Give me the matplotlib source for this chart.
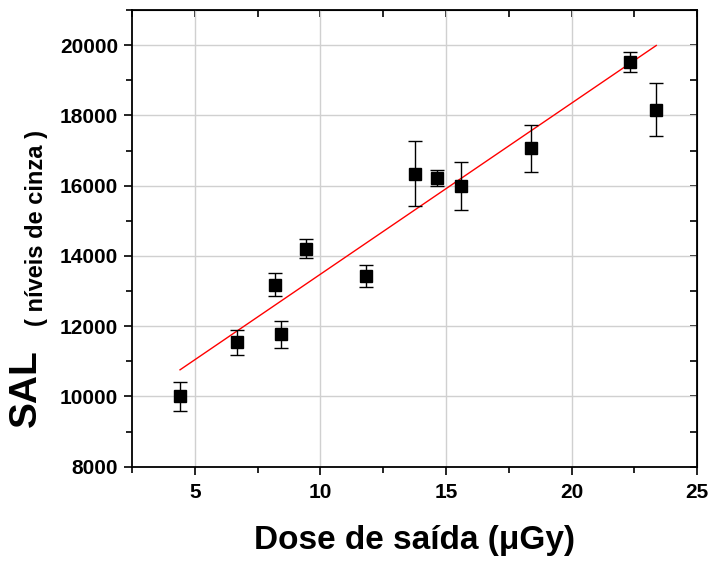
import matplotlib
matplotlib.use("Agg")
import matplotlib.pyplot as plt
import numpy as np
from matplotlib.ticker import MultipleLocator

# data
dose = [4.41, 6.69, 8.18, 8.43, 9.42, 11.81, 13.76, 14.63, 15.60, 18.37, 22.34, 23.37]
sal = [10000, 11544, 13179, 11772, 14209, 13430, 16342, 16228, 16000, 17068, 19525, 18162]
sal_err = [400, 350, 325, 380, 275, 325, 920, 230, 680, 665, 280, 755]

# linear fit as drawn in the reference
fit_intercept = 8612
fit_slope = 487

plt.rcParams['font.family'] = ['Liberation Sans', 'DejaVu Sans']
plt.rcParams['font.weight'] = 'bold'

fig = plt.figure(figsize=(7.10, 5.61), dpi=100)
ax = fig.add_axes([0.186, 0.168, 0.796, 0.814])

ax.grid(True, which='major', color='#d0d0d0', linewidth=1.0, zorder=0)
ax.set_axisbelow(True)

fit_x = np.array([min(dose), max(dose)])
ax.plot(fit_x, fit_intercept + fit_slope * fit_x, color='red', linewidth=1.0, zorder=2)

ax.errorbar(dose, sal, yerr=sal_err, fmt='s', color='black', markersize=8.5,
            ecolor='black', elinewidth=1.0, capsize=5, capthick=1.0, zorder=3)

ax.set_xlim(2.5, 25)
ax.set_ylim(8000, 21000)
ax.xaxis.set_major_locator(MultipleLocator(5))
ax.xaxis.set_minor_locator(MultipleLocator(2.5))
ax.yaxis.set_major_locator(MultipleLocator(2000))
ax.yaxis.set_minor_locator(MultipleLocator(1000))

ax.tick_params(which='both', direction='out', width=1.2, labelsize=15)
ax.tick_params(which='major', length=6)
ax.tick_params(which='minor', length=4)
ax.tick_params(axis='x', which='major', pad=6)
ax.tick_params(axis='y', which='major', pad=4)
for lab in ax.get_xticklabels() + ax.get_yticklabels():
    lab.set_fontweight('bold')

# mirrored ticks on top/right pointing inward
ax2 = ax.secondary_xaxis('top')
ax2.xaxis.set_major_locator(MultipleLocator(2.5))
ax2.tick_params(direction='in', length=5, width=1.2, labelbottom=False, labeltop=False)
ay2 = ax.secondary_yaxis('right')
ay2.yaxis.set_major_locator(MultipleLocator(1000))
ay2.tick_params(direction='in', length=5, width=1.2, labelleft=False, labelright=False)

for s in ax.spines.values():
    s.set_linewidth(1.3)

ax.set_xlabel('Dose de saída (μGy)', fontsize=24, fontweight='bold', labelpad=16)

fig.text(0.036, 0.309, 'SAL', rotation=90, fontsize=28, fontweight='bold',
         ha='center', va='center')
fig.text(0.052, 0.594, '( níveis de cinza )', rotation=90, fontsize=17, fontweight='bold',
         ha='center', va='center')

fig.savefig('out.png', dpi=100)
